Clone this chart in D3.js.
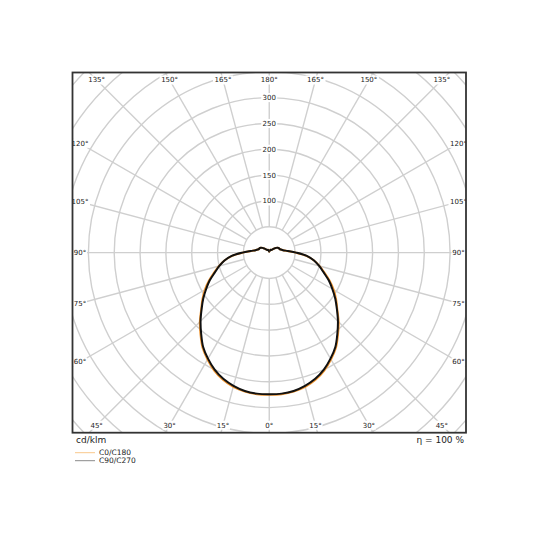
<html>
<head>
<meta charset="UTF-8">
<title>LDC</title>
<script src="https://cdn.jsdelivr.net/npm/d3@7"></script>
<style>
  body { margin:0; background:#fff; }
  text { font-family:"DejaVu Sans", sans-serif; }
</style>
</head>
<body>
<svg id="chart" width="540" height="540"></svg>
<script>
// gamma angles (0 = nadir, 180 = zenith)
var gammaAngles = [0,5,10,15,20,25,30,35,40,45,50,55,60,65,70,75,80,85,90,
                   95,100,105,110,115,120,125,130,135,140,145,150,155,160,165,170,175,180];
// cd/klm
var c0c180  = [275,275,273,269,262,252,239,225,207,190,172,158,144,129,114,101,88,72,51,
               35,27,23,21,20.5,19,16,12,9,7,6,6,6,5,4,3,2,2];
var c90c270 = [274,274,272,267,260,250,237,223,205,188,171,156,141,127,112,100,88,73,52,
               36,27,23,21,20.5,19,16,12,9,7,6,6,6,5,4,3,2,2];
var ringValues  = [50,100,150,200,250,300,350,400,450,500,550];
var ringLabels  = [100,150,200,250,300];
var spokeAngles = d3.range(0, 360, 15);
var legendNames = ["C0/C180","C90/C270"];
var unitLabel = "cd/klm";
var etaLabel = "η = 100 %";

var svg = d3.select("#chart");
var cx = 269.25, cy = 252.6;
var box = {x0:72.5, y0:72.5, x1:466, y1:432.7};
var r = d3.scaleLinear().domain([0,300]).range([0,155]);

svg.append("defs").append("clipPath").attr("id","frameclip")
   .append("rect").attr("x",box.x0).attr("y",box.y0)
   .attr("width",box.x1-box.x0).attr("height",box.y1-box.y0);

var g = svg.append("g").attr("clip-path","url(#frameclip)");
var grid = g.append("g").attr("transform","translate("+cx+","+cy+")");

// rings
grid.selectAll("circle.ring").data(ringValues).enter().append("circle")
    .attr("class","ring").attr("r",function(d){return r(d);})
    .attr("fill","none").attr("stroke","#cfcfcf").attr("stroke-width",1.4);

// spokes (gamma measured from the bottom)
function toXY(gam, rad){
    var a = gam*Math.PI/180;
    return [rad*Math.sin(a), rad*Math.cos(a)];
}
grid.selectAll("line.spoke").data(spokeAngles).enter().append("line")
    .attr("class","spoke")
    .attr("x1",function(d){return toXY(d,r(50))[0];})
    .attr("y1",function(d){return toXY(d,r(50))[1];})
    .attr("x2",function(d){return toXY(d,400)[0];})
    .attr("y2",function(d){return toXY(d,400)[1];})
    .attr("stroke","#cfcfcf").attr("stroke-width",1.4);

// curves
var radial = d3.lineRadial()
    .angle(function(d){return d[0];})
    .radius(function(d){return r(d[1]);})
    .curve(d3.curveCatmullRom);

function buildPath(vals){
    var pts = [];
    for (var i=gammaAngles.length-1;i>=0;i--) pts.push([Math.PI+gammaAngles[i]*Math.PI/180, vals[i]]);
    for (var j=1;j<gammaAngles.length;j++) pts.push([Math.PI-gammaAngles[j]*Math.PI/180, vals[j]]);
    return pts;
}
grid.append("path").datum(buildPath(c0c180))
    .attr("d",radial).attr("fill","none")
    .attr("stroke","#f0942e").attr("stroke-width",2);
grid.append("path").datum(buildPath(c90c270))
    .attr("d",radial).attr("fill","none")
    .attr("stroke","#111").attr("stroke-width",2);

// radial value labels
var rl = grid.selectAll("g.rlab").data(ringLabels).enter().append("g")
    .attr("transform",function(d){return "translate(0,"+(-r(d))+")";});
rl.append("rect").attr("x",-8).attr("y",-4.5).attr("width",16).attr("height",9).attr("fill","#fff");
rl.append("text").attr("text-anchor","middle").attr("dy","0.35em")
    .attr("font-size",7).attr("fill","#222").text(function(d){return d;});

// angle labels along the frame
var inset = 7.5;
var hw = (box.x1-box.x0)/2 - inset, hh = (box.y1-box.y0)/2 - inset;
var angleLabs = [];
for (var k=0;k<=180;k+=15){
    angleLabs.push({a:k, side:-1});
    if (k>0 && k<180) angleLabs.push({a:k, side:1});
}
var al = grid.selectAll("g.alab").data(angleLabs).enter().append("g")
    .attr("transform",function(d){
        var v = toXY(d.a,1); v[0]*=d.side;
        var t = Math.min(Math.abs(v[0])>1e-9?hw/Math.abs(v[0]):1e9, Math.abs(v[1])>1e-9?hh/Math.abs(v[1]):1e9);
        return "translate("+(v[0]*t)+","+(v[1]*t)+")";
    });
al.append("rect").attr("x",function(d){return d.a>=100?-10:-7;}).attr("y",-4.5)
    .attr("width",function(d){return d.a>=100?20:14;}).attr("height",9).attr("fill","#fff");
al.append("text").attr("text-anchor","middle").attr("dy","0.35em")
    .attr("font-size",7).attr("fill","#222").text(function(d){return d.a+"°";});

// frame
svg.append("rect").attr("x",box.x0).attr("y",box.y0)
   .attr("width",box.x1-box.x0).attr("height",box.y1-box.y0)
   .attr("fill","none").attr("stroke","#333").attr("stroke-width",1.8);

// footer
svg.append("text").attr("x",76).attr("y",442.5).attr("font-size",9).attr("fill","#222").text(unitLabel);
svg.append("text").attr("x",464).attr("y",442.5).attr("text-anchor","end")
   .attr("font-size",9).attr("fill","#222").text(etaLabel);

var legendColors = ["#f9c88c","#8a8a8a"];
var lg = svg.selectAll("g.leg").data(legendNames).enter().append("g")
    .attr("transform",function(d,i){return "translate(75,"+(452.7+i*8)+")";});
lg.append("line").attr("x1",0).attr("x2",20).attr("y1",0).attr("y2",0)
    .attr("stroke",function(d,i){return legendColors[i];}).attr("stroke-width",1);
lg.append("text").attr("x",24).attr("dy","0.35em").attr("font-size",7.5).attr("fill","#222")
    .text(function(d){return d;});
</script>
</body>
</html>
